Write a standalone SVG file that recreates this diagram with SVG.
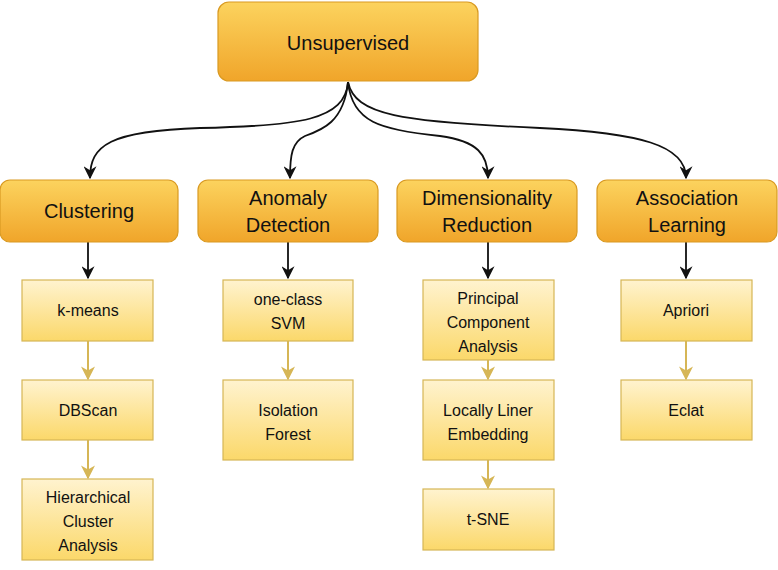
<svg xmlns="http://www.w3.org/2000/svg" width="778" height="570" viewBox="0 0 778 570">
<defs>
<linearGradient id="gOrange" x1="0" y1="0" x2="0" y2="1">
<stop offset="0" stop-color="#fcd35e"/>
<stop offset="1" stop-color="#f0a52a"/>
</linearGradient>
<linearGradient id="gYellow" x1="0" y1="0" x2="0" y2="1">
<stop offset="0" stop-color="#fff3cf"/>
<stop offset="1" stop-color="#fbd86a"/>
</linearGradient>
<marker id="aBlack" viewBox="0 0 10 10" refX="9" refY="5" markerWidth="13" markerHeight="13" markerUnits="userSpaceOnUse" orient="auto">
<path d="M0,0 L10,5 L0,10 L3,5 Z" fill="#111"/>
</marker>
<marker id="aTan" viewBox="0 0 10 10" refX="9" refY="5" markerWidth="14" markerHeight="14" markerUnits="userSpaceOnUse" orient="auto">
<path d="M0,0 L10,5 L0,10 L3,5 Z" fill="#d6b656"/>
</marker>
</defs>
<style>
.main{fill:url(#gOrange);stroke:#d99a22;stroke-width:1.2}
.sub{fill:url(#gYellow);stroke:#d6b656;stroke-width:1.2}
.t1{font-family:"Liberation Sans",Arial,sans-serif;font-size:20px;fill:#111;text-anchor:middle}
.t2{font-family:"Liberation Sans",Arial,sans-serif;font-size:16px;fill:#111;text-anchor:middle}
.eb{fill:none;stroke:#111;stroke-width:1.8;marker-end:url(#aBlack)}
.et{fill:none;stroke:#d6b656;stroke-width:2;marker-end:url(#aTan)}
</style>
<rect width="778" height="570" fill="#fff"/>
<g id="connectors">
<path class="eb" d="M348,82 C345,120 300,126 200,128 C110,131 90,145 90,178"/>
<path class="eb" d="M348,82 C344,122 322,130 305,136 C292,142 290,155 290,178"/>
<path class="eb" d="M348,82 C352,122 380,130 440,136 C478,141 488,155 488,178"/>
<path class="eb" d="M348,82 C355,115 400,122 540,128 C640,133 686,145 686,178"/>
<path class="eb" d="M88,242 L88,278"/>
<path class="eb" d="M288,242 L288,278"/>
<path class="eb" d="M488,242 L488,278"/>
<path class="eb" d="M686,242 L686,278"/>
<path class="et" d="M88,341 L88,379"/>
<path class="et" d="M88,440 L88,478"/>
<path class="et" d="M288,341 L288,379"/>
<path class="et" d="M488,360 L488,379"/>
<path class="et" d="M488,460 L488,488"/>
<path class="et" d="M686,341 L686,379"/>
</g>
<g id="unsupervised"><rect class="main" x="218" y="2" width="260" height="79" rx="11"/><text class="t1" x="348" y="50">Unsupervised</text></g>
<g id="clustering"><rect class="main" x="0" y="180" width="178" height="62" rx="10"/><text class="t1" x="89" y="218">Clustering</text></g>
<g id="anomaly"><rect class="main" x="198" y="180" width="180" height="62" rx="10"/><text class="t1" x="288" y="205">Anomaly</text><text class="t1" x="288" y="232">Detection</text></g>
<g id="dimred"><rect class="main" x="397" y="180" width="180" height="62" rx="10"/><text class="t1" x="487" y="205">Dimensionality</text><text class="t1" x="487" y="232">Reduction</text></g>
<g id="assoc"><rect class="main" x="597" y="180" width="180" height="62" rx="10"/><text class="t1" x="687" y="205">Association</text><text class="t1" x="687" y="232">Learning</text></g>
<g id="kmeans"><rect class="sub" x="22" y="280" width="131" height="61"/><text class="t2" x="88" y="316">k-means</text></g>
<g id="dbscan"><rect class="sub" x="22" y="380" width="131" height="60"/><text class="t2" x="88" y="416">DBScan</text></g>
<g id="hca"><rect class="sub" x="22" y="479" width="131" height="81"/><text class="t2" x="88" y="503">Hierarchical</text><text class="t2" x="88" y="527">Cluster</text><text class="t2" x="88" y="551">Analysis</text></g>
<g id="ocsvm"><rect class="sub" x="223" y="280" width="130" height="61"/><text class="t2" x="288" y="305">one-class</text><text class="t2" x="288" y="329">SVM</text></g>
<g id="iforest"><rect class="sub" x="223" y="380" width="130" height="80"/><text class="t2" x="288" y="416">Isolation</text><text class="t2" x="288" y="440">Forest</text></g>
<g id="pca"><rect class="sub" x="423" y="280" width="131" height="80"/><text class="t2" x="488" y="304">Principal</text><text class="t2" x="488" y="328">Component</text><text class="t2" x="488" y="352">Analysis</text></g>
<g id="lle"><rect class="sub" x="423" y="380" width="131" height="80"/><text class="t2" x="488" y="416">Locally Liner</text><text class="t2" x="488" y="440">Embedding</text></g>
<g id="tsne"><rect class="sub" x="423" y="489" width="131" height="61"/><text class="t2" x="488" y="525">t-SNE</text></g>
<g id="apriori"><rect class="sub" x="621" y="280" width="131" height="61"/><text class="t2" x="686" y="316">Apriori</text></g>
<g id="eclat"><rect class="sub" x="621" y="380" width="131" height="60"/><text class="t2" x="686" y="416">Eclat</text></g>
</svg>
